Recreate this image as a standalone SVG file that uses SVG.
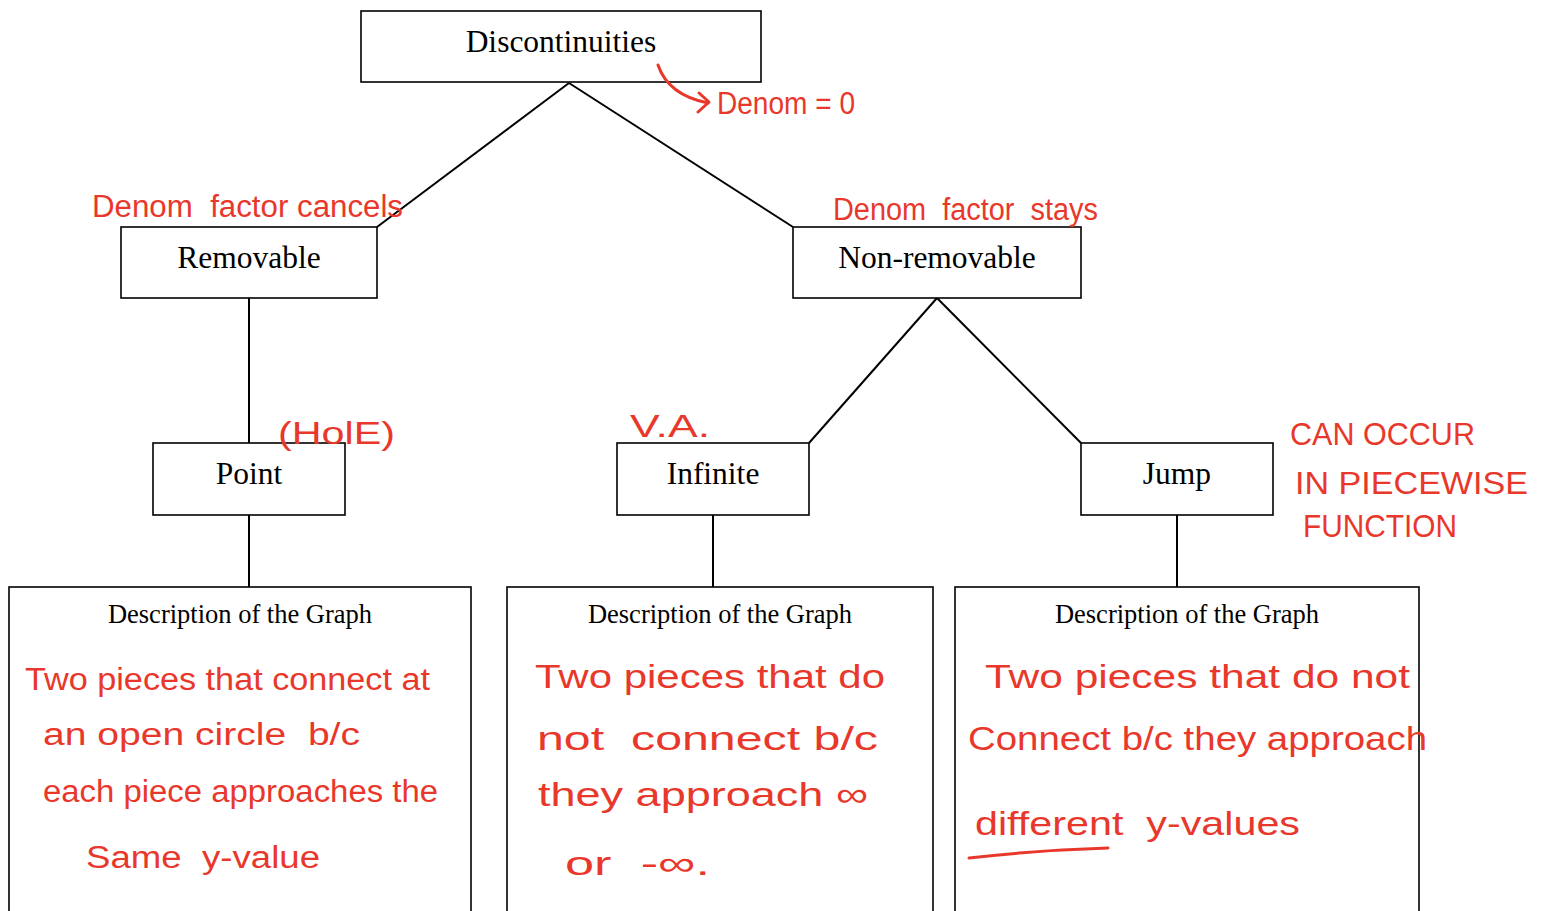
<svg xmlns="http://www.w3.org/2000/svg" width="1543" height="911" viewBox="0 0 1543 911">
<defs>
<style>
.box{fill:#fff;stroke:#000;stroke-width:1.6}
.lbl{font-family:"Liberation Serif",serif;font-size:31.5px;fill:#000;text-anchor:middle}
.dsc{font-family:"Liberation Serif",serif;font-size:26.5px;fill:#000;text-anchor:middle}
.hw{font-family:"Liberation Sans",sans-serif;font-size:31px;fill:#e8382b;white-space:pre}
.big{font-size:34px}
.conn{stroke:#000;stroke-width:2;fill:none}
.ink{stroke:#e8382b;stroke-width:3;fill:none;stroke-linecap:round;stroke-linejoin:round}
</style>
</defs>
<rect width="1543" height="911" fill="#fff"/>
<g id="connectors">
<line class="conn" x1="569" y1="83" x2="377" y2="227"/>
<line class="conn" x1="569" y1="83" x2="793" y2="227"/>
<line class="conn" x1="249" y1="298" x2="249" y2="443"/>
<line class="conn" x1="937" y1="298" x2="809" y2="443"/>
<line class="conn" x1="937" y1="298" x2="1081" y2="443"/>
<line class="conn" x1="249" y1="515" x2="249" y2="587"/>
<line class="conn" x1="713" y1="515" x2="713" y2="587"/>
<line class="conn" x1="1177" y1="515" x2="1177" y2="587"/>
</g>
<g id="n-discontinuities"><rect class="box" x="361" y="11" width="400" height="71"/><text class="lbl" x="561" y="52">Discontinuities</text></g>
<g id="n-removable"><rect class="box" x="121" y="227" width="256" height="71"/><text class="lbl" x="249" y="268">Removable</text></g>
<g id="n-nonremovable"><rect class="box" x="793" y="227" width="288" height="71"/><text class="lbl" x="937" y="268">Non-removable</text></g>
<g id="n-point"><rect class="box" x="153" y="443" width="192" height="72"/><text class="lbl" x="249" y="484">Point</text></g>
<g id="n-infinite"><rect class="box" x="617" y="443" width="192" height="72"/><text class="lbl" x="713" y="484">Infinite</text></g>
<g id="n-jump"><rect class="box" x="1081" y="443" width="192" height="72"/><text class="lbl" x="1177" y="484">Jump</text></g>
<g id="n-desc-point"><rect class="box" x="9" y="587" width="462" height="360"/><text class="dsc" x="240" y="623">Description of the Graph</text>
<text class="hw" x="25" y="690" textLength="405" lengthAdjust="spacingAndGlyphs">Two pieces that connect at</text>
<text class="hw" x="43" y="745" textLength="317" lengthAdjust="spacingAndGlyphs">an open circle  b/c</text>
<text class="hw" x="43" y="802" textLength="395" lengthAdjust="spacingAndGlyphs">each piece approaches the</text>
<text class="hw" x="86" y="868" textLength="234" lengthAdjust="spacingAndGlyphs">Same  y-value</text>
</g>
<g id="n-desc-infinite"><rect class="box" x="507" y="587" width="426" height="360"/><text class="dsc" x="720" y="623">Description of the Graph</text>
<text class="hw big" x="535" y="688" textLength="350" lengthAdjust="spacingAndGlyphs">Two pieces that do</text>
<text class="hw big" x="537" y="750" textLength="341" lengthAdjust="spacingAndGlyphs">not  connect b/c</text>
<text class="hw big" x="538" y="806" textLength="330" lengthAdjust="spacingAndGlyphs">they approach ∞</text>
<text class="hw big" x="565" y="875" textLength="145" lengthAdjust="spacingAndGlyphs">or  -∞.</text>
</g>
<g id="n-desc-jump"><rect class="box" x="955" y="587" width="464" height="360"/><text class="dsc" x="1187" y="623">Description of the Graph</text>
<text class="hw big" x="985" y="688" textLength="425" lengthAdjust="spacingAndGlyphs">Two pieces that do not</text>
<text class="hw big" x="968" y="750" textLength="459" lengthAdjust="spacingAndGlyphs">Connect b/c they approach</text>
<text class="hw big" x="975" y="835" textLength="325" lengthAdjust="spacingAndGlyphs">different  y-values</text>
<path class="ink" d="M969 858 Q1040 850 1108 848"/>
</g>
<g id="annotations">
<path class="ink" d="M658 65 Q668 95 708 103"/>
<path class="ink" d="M699 93 L709 102 L698 112"/>
<text class="hw" x="717" y="114" textLength="138" lengthAdjust="spacingAndGlyphs">Denom = 0</text>
<text class="hw" x="92" y="217" textLength="311" lengthAdjust="spacingAndGlyphs">Denom  factor cancels</text>
<text class="hw" x="833" y="220" textLength="265" lengthAdjust="spacingAndGlyphs">Denom  factor  stays</text>
<text class="hw" x="278" y="444" font-size="42" textLength="117" lengthAdjust="spacingAndGlyphs">(HolE)</text>
<text class="hw" x="630" y="437" font-size="40" textLength="80" lengthAdjust="spacingAndGlyphs">V.A.</text>
<text class="hw" x="1290" y="445" textLength="185" lengthAdjust="spacingAndGlyphs">CAN OCCUR</text>
<text class="hw" x="1295" y="494" textLength="233" lengthAdjust="spacingAndGlyphs">IN PIECEWISE</text>
<text class="hw" x="1303" y="537" textLength="154" lengthAdjust="spacingAndGlyphs">FUNCTION</text>
</g>
</svg>
